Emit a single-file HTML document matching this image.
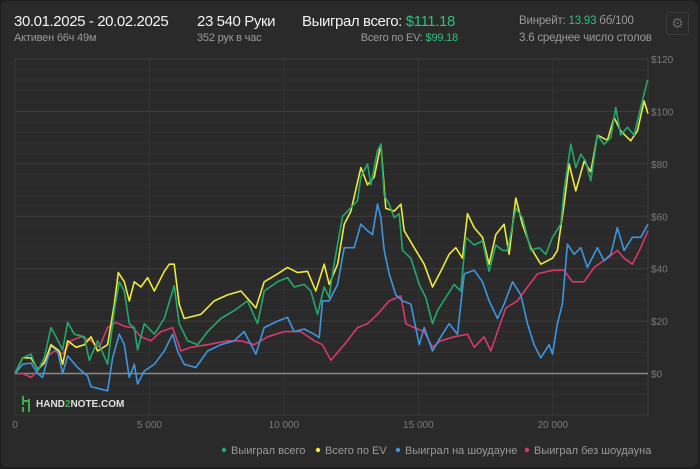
<!DOCTYPE html>
<html><head><meta charset="utf-8"><style>
html,body{margin:0;padding:0;background:#1e1e1e;}
#card{position:absolute;left:1px;top:1px;width:697px;height:466px;background:#2a2a2a;border-radius:6px;overflow:hidden;font-family:"Liberation Sans","Noto Sans CJK SC",sans-serif;}
.t{position:absolute;white-space:nowrap;}
.big{font-size:15px;color:#f2f2f2;letter-spacing:-0.4px;}
.sm{font-size:11px;color:#9a9a9a;letter-spacing:-0.2px;}
.g{color:#2fbf7f;}
</style></head><body>
<div id="card">
<div class="t big" style="left:13px;top:12px">30.01.2025 - 20.02.2025</div>
<div class="t sm" style="left:13px;top:31px">Активен 66ч 49м</div>
<div class="t big" style="left:196px;top:12px">23 540 Руки</div>
<div class="t sm" style="left:196px;top:31px">352 рук в час</div>
<div class="t big" style="left:301px;top:12px">Выиграл всего: <span class="g">$111.18</span></div>
<div class="t sm" style="right:240px;top:31px">Всего по EV: <span class="g">$99.18</span></div>
<div class="t sm" style="left:518px;top:14px;font-size:11.5px">Винрейт: <span class="g">13.93</span> бб/100</div>
<div class="t sm" style="left:518px;top:31px;font-size:11.5px">3.6 среднее число столов</div>
<div style="position:absolute;left:665px;top:11px;width:21px;height:21px;border:1px solid #3c3c3c;border-radius:3px;color:#666;font-size:14px;text-align:center;line-height:21px">⚙</div>
<svg id="chart" width="700" height="469" style="position:absolute;left:-1px;top:-1px"></svg>
</div>
<script>
const xTicks=[0,5000,10000,15000,20000];
const xTickLabels=["0","5 000","10 000","15 000","20 000"];
const yTicks=[0,20,40,60,80,100,120];
const yTickLabels=["$0","$20","$40","$60","$80","$100","$120"];
const seriesNames=["Выиграл всего","Всего по EV","Выиграл на шоудауне","Выиграл без шоудауна"];
const greenHands=[0,285,595,843,1090,1338,1524,1772,1958,2205,2577,2763,3073,3444,3692,3878,4064,4250,4436,4560,4807,5179,5551,5922,6108,6418,6790,7161,7657,8153,8648,9020,9268,9763,10135,10383,10755,11002,11250,11498,11684,11747,11871,12181,12614,12738,12862,13110,13234,13482,13606,13729,13915,14101,14287,14411,14721,15030,15278,15526,15712,16021,16331,16579,16765,17075,17384,17632,17880,18128,18314,18623,18871,19181,19491,19739,19987,20296,20420,20668,20854,21040,21225,21411,21659,21907,22155,22341,22526,22774,23022,23270,23518,23540];
const greenValues=[0,6,7.4,1,6,17.5,14,9,19.5,15,14,5,12.5,3.5,24,35,31.5,19,17.5,9,19,15,21,33.5,19,12.5,11,16,21,24,27.7,19,31.5,35,36.6,33,34,31.5,22.6,33,29,34,42,60,64.6,66,75,80,72,85,87.5,68,64.6,59.5,61,47,44,34,29,19,24,29,34,31.5,52,49,50.6,39,49,47,47,63,59.5,47,48,45.5,52,57,70,87.5,78.6,83.7,81,73.5,91,87.5,90,101.5,91,94,91,101.5,111.7,111.18];
const evHands=[0,285,595,843,1090,1338,1648,1772,1958,2267,2577,2825,3073,3444,3692,3841,4064,4250,4436,4683,4931,5179,5551,5737,5922,6108,6294,6914,7409,7905,8400,8958,9268,9763,10135,10507,10879,11188,11498,11684,11995,12243,12490,12862,13110,13358,13606,13791,14101,14349,14473,14845,15216,15526,15836,16145,16393,16641,16827,17075,17384,17632,17880,18190,18376,18623,18871,19181,19553,19987,20172,20420,20606,20854,21163,21411,21659,22031,22279,22526,22898,23146,23394,23540];
const evValues=[0,6,6,1.6,4,11,8.6,3.5,12.5,10,11,14,8.6,11,26.5,38.5,35,27.7,35,33,36.6,31.5,39,41.7,41.7,26.5,21,22.6,27.7,30,31.5,25,35,38,40.5,38.5,39,31.5,41.7,34,41.7,57,62,78.6,72,75,87.5,63,62,64.6,54.5,48,41.7,33,39,45.5,48,44,61,55.7,52,41.7,53,57,45.5,67,57,48,41.7,44,47,64.6,80,69.7,81,77,91,89,97.7,92.6,88.8,92.6,104,99.18];
const sdHands=[0,285,595,843,1028,1338,1586,1772,1958,2329,2701,2825,3197,3444,3630,3878,4064,4250,4436,4560,4807,5179,5551,5860,6046,6294,6728,7161,7657,8153,8524,8958,9268,9763,10135,10383,10755,11126,11312,11436,11684,11995,12243,12614,12862,13110,13296,13482,13606,13729,13915,14163,14411,14721,15030,15216,15526,15836,16145,16455,16703,17075,17384,17632,17942,18190,18500,18809,19057,19305,19553,19863,19987,20172,20358,20544,20792,21040,21287,21659,21907,22155,22402,22650,22960,23270,23540];
const sdValues=[0,3.5,4,0,-1.5,10.5,8.6,0,6.7,2.3,-1,-5,-6,-6.6,6,15,11,-1.5,3.5,-4,1,3.5,8.6,15,8.6,3.5,2.3,8.6,11,12.5,16,7.4,17.5,20,21.4,16,17,15,13.7,27.7,27.7,34,48,48,57,54.5,53,64.6,59.5,47,38,30,27.7,26.5,11,17.5,8.6,14,19,15,38,39.4,35,27.7,21,26.5,35,30,19,11,6,11,7.4,19,26.5,49.4,45.5,48,40.5,48,43,45.5,55.7,47,52,52,57];
const nsdHands=[0,285,595,843,1152,1462,1772,2082,2453,2825,3135,3444,3754,4064,4374,4683,5055,5427,5860,6170,6542,7161,7905,8400,8896,9392,10011,10631,11126,11436,11746,12243,12738,13110,13482,13915,14349,14535,14845,15216,15526,15836,16331,16827,17075,17446,17694,17942,18252,18685,19057,19429,19987,20420,20730,21163,21535,22031,22402,22650,22960,23270,23540];
const nsdValues=[0,0,-1.5,1,6,8.6,7.4,12.5,14,12.5,10,17.5,19.5,18,17.5,14,12.5,16,17.5,8.6,10,11,12.5,12.5,11,14,16,16,12.5,11,5,11,17.5,19,22.6,27.7,29.6,19,17.5,16,10,12.5,14,15,10,14,8.6,16,25,27.7,33,38,39.4,39.4,35,35,40.5,44,47,44,41.7,48,54.5];

const NS="http://www.w3.org/2000/svg";
const svg=document.getElementById('chart');
const L=15,R=648,T=59,B=415,XMAX=23540,Y0=373.5,PPD=2.62;
const xs=h=>L+(h/XMAX)*(R-L);
const ys=v=>Y0-v*PPD;
function mk(tag,attrs){const e=document.createElementNS(NS,tag);for(const k in attrs)e.setAttribute(k,attrs[k]);svg.appendChild(e);return e;}
for(let v=-16;v<=120;v+=4){const y=ys(v);if(y<T-1||y>B)continue;
 const ln=mk('line',{x1:L,x2:R,y1:y,y2:y,stroke:v%20===0?'#3e3e3e':'#323232','stroke-width':1});
 
 }
xTicks.forEach((t,i)=>{const x=xs(t);
 const g=mk('line',{x1:x,x2:x,y1:T,y2:B,stroke:'#333','stroke-width':1});
 
 
 const tx=mk('text',{x:x,y:428,fill:'#7a7a7a','font-size':10,'text-anchor':'middle','font-family':'Liberation Sans, sans-serif'});
 tx.textContent=xTickLabels[i];
 
 });
mk('rect',{x:L,y:T,width:R-L,height:B-T,fill:'none',stroke:'#3a3a3a'});
yTicks.forEach((t,i)=>{const tx=mk('text',{x:651,y:ys(t)+4,fill:'#7a7a7a','font-size':10,'font-family':'Liberation Sans, sans-serif'});
 tx.textContent=yTickLabels[i];
 
 });
const zl=mk('line',{x1:L,x2:R,y1:ys(0),y2:ys(0),stroke:'#8a8a8a','stroke-width':1.5});


const lg=mk('text',{x:36,y:407,fill:'#e0e0e0','font-size':10,'font-weight':'bold','font-family':'Liberation Sans, sans-serif'});
lg.innerHTML='HAND<tspan fill="#3fae49">2</tspan>NOTE.COM';


const lm=mk('path',{d:'M23 396 V405 M23 401 L29 401 L29 406 M29 399 V412 M23 407 V412',stroke:'#3fae49','stroke-width':2,fill:'none'});


function series(hs,vs,color,name){const d=hs.map((h,i)=>(i?'L':'M')+xs(h).toFixed(1)+' '+ys(vs[i]).toFixed(1)).join(' ');
 const p=mk('path',{d:d,fill:'none',stroke:color,'stroke-width':1.6,'stroke-linejoin':'round'});
 
 }
const colors=['#23a86c','#eeea3a','#3d96e0','#d8386c'];
series(nsdHands,nsdValues,colors[3],'line-no-showdown');
series(sdHands,sdValues,colors[2],'line-showdown');
series(evHands,evValues,colors[1],'line-ev');
series(greenHands,greenValues,colors[0],'line-total');
const lx=[224,318,398,527];
seriesNames.forEach((n,i)=>{
 const c=mk('circle',{cx:lx[i],cy:450,r:2.2,fill:colors[i]});
 
 
 const t=mk('text',{x:lx[i]+7,y:454,fill:'#9a9a9a','font-size':11,'font-family':'Liberation Sans, sans-serif'});
 t.textContent=n;
 
 });
</script>
</body></html>
